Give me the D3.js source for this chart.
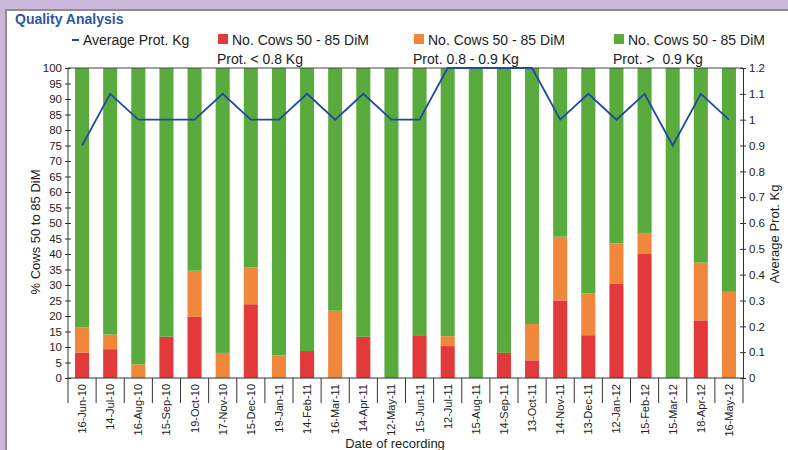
<!DOCTYPE html>
<html>
<head>
<meta charset="utf-8">
<script src="https://cdn.jsdelivr.net/npm/d3@7"></script>
<style>
body { margin: 0; background: #c9b8d9; }
svg { display: block; }
</style>
</head>
<body>
<svg width="788" height="450"></svg>
<script>
const dates = ["16-Jun-10","14-Jul-10","16-Aug-10","15-Sep-10","19-Oct-10","17-Nov-10","15-Dec-10","19-Jan-11",
  "14-Feb-11","16-Mar-11","14-Apr-11","12-May-11","15-Jun-11","12-Jul-11","15-Aug-11","14-Sep-11",
  "13-Oct-11","14-Nov-11","13-Dec-11","12-Jan-12","15-Feb-12","15-Mar-12","18-Apr-12","16-May-12"]
// % cows with prot < 0.8 kg
const lowProt = [8.2, 9.3, 0, 13.3, 19.8, 0, 23.8, 0, 8.7, 0, 13.3, 0, 13.8, 10.3, 0, 8.1, 5.7, 25, 13.8, 30.5, 40, 0, 18.6, 0]
// % cows with prot 0.8 - 0.9 kg
const midProt = [8.1, 4.7, 4.4, 0, 14.8, 8.1, 11.9, 7.3, 0, 21.7, 0, 0, 0, 3.2, 0, 0, 11.7, 20.6, 13.5, 12.9, 6.8, 0, 18.6, 27.8]
// % cows with prot > 0.9 kg
const highProt = lowProt.map((v, i) => 100 - v - midProt[i])
const avgProt = [0.9, 1.1, 1.0, 1.0, 1.0, 1.1, 1.0, 1.0, 1.1, 1.0, 1.1, 1.0, 1.0, 1.2, 1.2, 1.2, 1.2, 1.0, 1.1, 1.0, 1.1, 0.9, 1.1, 1.0]
const leftTicks = d3.range(0, 101, 5)
const rightTicks = d3.range(0, 1.21, 0.1)

const colors = {low: "#e2393a", mid: "#f0873a", high: "#5aab3e", line: "#2249a0"}

const svg = d3.select("svg")
const narrow = "'Liberation Sans Narrow', 'Arial Narrow', sans-serif"
const font = "'Liberation Sans', Arial, sans-serif"

// panel
svg.append("rect").attr("x", 6).attr("y", 10).attr("width", 800).attr("height", 460)
  .attr("fill", "#fff").attr("stroke", "#8e8e8e").attr("stroke-width", 2)

svg.append("text").attr("x", 15).attr("y", 24).text("Quality Analysis")
  .attr("font-family", narrow).attr("font-size", 14).attr("font-weight", "bold").attr("fill", "#2f55a4")

const m = {left: 68, right: 743, top: 68, bottom: 378}

const x = d3.scaleBand().domain(dates).range([m.left, m.right]).paddingInner(0.5).paddingOuter(0.25)
const y = d3.scaleLinear().domain([0, 100]).range([m.bottom, m.top])
const y2 = d3.scaleLinear().domain([0, 1.2]).range([m.bottom, m.top])

// bars
const rows = dates.map((d, i) => ({date: d, low: lowProt[i], mid: midProt[i], high: highProt[i]}))
const stack = d3.stack().keys(["low", "mid", "high"])(rows)
svg.append("g").selectAll("g").data(stack).join("g")
  .attr("fill", s => colors[s.key])
  .selectAll("rect").data(s => s).join("rect")
  .attr("x", d => x(d.data.date))
  .attr("width", x.bandwidth())
  .attr("y", d => y(d[1]))
  .attr("height", d => y(d[0]) - y(d[1]))

// top frame line
svg.append("line").attr("x1", m.left).attr("x2", m.right).attr("y1", m.top).attr("y2", m.top)
  .attr("stroke", "#444").attr("stroke-width", 1)

// average line
svg.append("path").datum(avgProt)
  .attr("fill", "none").attr("stroke", colors.line).attr("stroke-width", 1.8)
  .attr("d", d3.line().x((d, i) => x(dates[i]) + x.bandwidth() / 2).y(d => y2(d)))

// left axis
const la = svg.append("g").attr("transform", `translate(${m.left},0)`)
  .call(d3.axisLeft(y).tickValues(leftTicks).tickSize(3).tickSizeOuter(0))
la.selectAll(".tick line").attr("x2", 3).attr("x1", -3)
la.selectAll("text").attr("x", -6)
la.selectAll("path").attr("d", `M0,${m.bottom + 25}V${m.top}`)

// right axis
const ra = svg.append("g").attr("transform", `translate(${m.right},0)`)
  .call(d3.axisRight(y2).tickValues(rightTicks).tickFormat(d3.format("~g")).tickSize(3).tickSizeOuter(0))
ra.selectAll(".tick line").attr("x1", -3).attr("x2", 3)
ra.selectAll("text").attr("x", 6)

// bottom axis: separators between categories
const step = x.step()
const seps = svg.append("g")
dates.forEach((d, i) => {
  if (i > 0) seps.append("line")
    .attr("x1", x(d) - step * 0.25).attr("x2", x(d) - step * 0.25)
    .attr("y1", m.bottom).attr("y2", m.bottom + 25)
    .attr("stroke", "#333")
})
svg.append("line").attr("x1", m.left).attr("x2", m.right).attr("y1", m.bottom).attr("y2", m.bottom).attr("stroke", "#333")
svg.append("line").attr("x1", m.right).attr("x2", m.right).attr("y1", m.bottom).attr("y2", m.bottom + 25).attr("stroke", "#333")

svg.append("g").selectAll("text").data(dates).join("text")
  .attr("transform", d => `translate(${x(d) + x.bandwidth() / 2 + 4},${m.bottom + 6}) rotate(-90)`)
  .attr("text-anchor", "end").attr("font-family", font).attr("font-size", 11).attr("fill", "#222")
  .text(d => d)

svg.selectAll(".tick text").attr("font-family", font).attr("font-size", 11.5).attr("fill", "#222")
svg.selectAll(".domain, .tick line").attr("stroke", "#333")

// axis titles
svg.append("text").attr("transform", "translate(40,232) rotate(-90)").attr("text-anchor", "middle")
  .attr("font-family", font).attr("font-size", 13).attr("fill", "#222").text("% Cows 50 to 85 DiM")
svg.append("text").attr("transform", "translate(779,234) rotate(-90)").attr("text-anchor", "middle")
  .attr("font-family", font).attr("font-size", 13).attr("fill", "#222").text("Average Prot. Kg")
svg.append("text").attr("x", 395).attr("y", 448).attr("text-anchor", "middle")
  .attr("font-family", font).attr("font-size", 13).attr("fill", "#222").text("Date of recording")

// legend
const lg = svg.append("g").attr("font-family", narrow).attr("font-size", 14).attr("fill", "#222")
lg.append("line").attr("x1", 72).attr("x2", 79).attr("y1", 40).attr("y2", 40).attr("stroke", colors.line).attr("stroke-width", 2)
lg.append("text").attr("x", 83).attr("y", 45).text("Average Prot. Kg")
const items = [
  {c: colors.low, x: 218, sub: "Prot. < 0.8 Kg"},
  {c: colors.mid, x: 414, sub: "Prot. 0.8 - 0.9 Kg"},
  {c: colors.high, x: 614, sub: "Prot. >  0.9 Kg"}
]
items.forEach(it => {
  lg.append("rect").attr("x", it.x).attr("y", 34).attr("width", 10).attr("height", 10).attr("fill", it.c)
  lg.append("text").attr("x", it.x + 14).attr("y", 45).text("No. Cows 50 - 85 DiM")
  lg.append("text").attr("x", it.x - 1).attr("y", 64).attr("xml:space", "preserve").text(it.sub)
})
</script>
</body>
</html>
